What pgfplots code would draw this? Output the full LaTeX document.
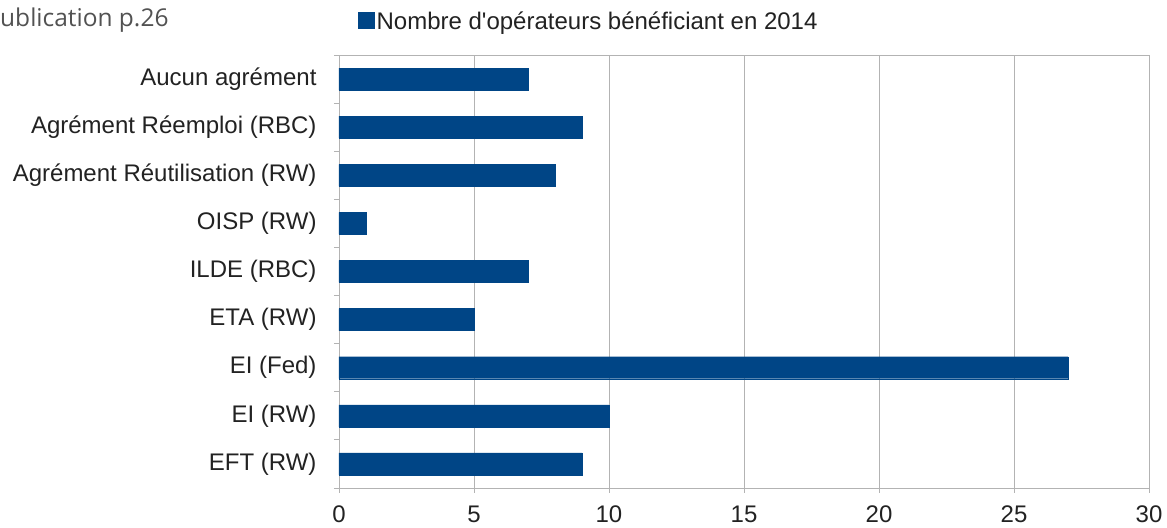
\documentclass[border=0pt]{standalone}
\usepackage{pgfplots}
\pgfplotsset{compat=1.18}
\usepackage{fontspec}
\setmainfont{Liberation Sans}
\newfontfamily\opensans{Open Sans}
\definecolor{barblue}{HTML}{004586}
\definecolor{gridgray}{HTML}{B3B3B3}
\definecolor{txt}{HTML}{222222}
\begin{document}
\begin{tikzpicture}
\useasboundingbox (0,0) rectangle (1167bp,528bp);
\node[anchor=base west, inner sep=0pt, text=black!68, font=\opensans\fontsize{24.5bp}{28bp}\selectfont] at (0bp,501bp) {ublication p.26};
\begin{axis}[
  at={(339bp,40bp)}, anchor=south west,
  scale only axis,
  width=810bp, height=433bp,
  xbar, bar width=22bp,
  xmin=0, xmax=30,
  ymin=-0.5, ymax=8.5,
  xtick={0,5,...,30},
  ytick={-0.5,0.5,...,8.5},
  yticklabels={EFT (RW),EI (RW),EI (Fed),ETA (RW),ILDE (RBC),OISP (RW),Agrément Réutilisation (RW),Agrément Réemploi (RBC),Aucun agrément,{}},
  xmajorgrids, major grid style={gridgray, line width=0.8bp},
  axis line style={gridgray, line width=0.8bp},
  every tick/.style={gridgray, line width=0.8bp},
  tick align=outside,
  xtick pos=bottom, ytick pos=left,
  major tick length=5bp,
  /pgf/number format/assume math mode=true,
  tick label style={text=txt, font=\fontsize{24bp}{28bp}\selectfont},
  yticklabel style={xshift=-14bp, yshift=24.06bp},
  xticklabel style={yshift=-9bp},
  legend style={at={(0.0235,1)}, anchor=south west, yshift=22bp, draw=none, fill=none, inner sep=0pt, font=\fontsize{24bp}{28bp}\selectfont, text=txt},
  legend image code/.code={\fill[barblue] (0bp,-7bp) rectangle (16bp,9bp);},
]
\addplot[fill=barblue, draw=barblue] coordinates {
(9,0) (10,1) (27,2) (5,3) (7,4) (1,5) (8,6) (9,7) (7,8)
};
\addlegendentry{Nombre d\textquotesingle opérateurs bénéficiant en 2014}
\end{axis}
\end{tikzpicture}
\end{document}
